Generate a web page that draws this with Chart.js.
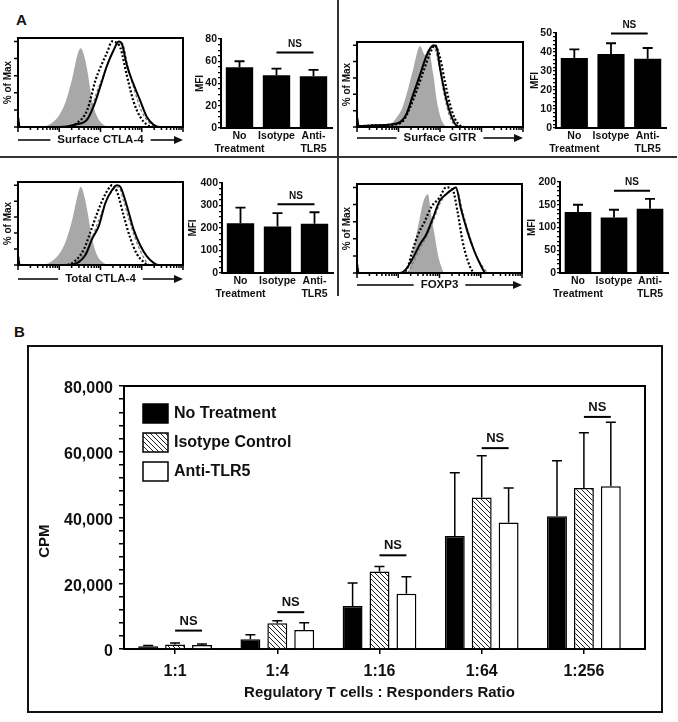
<!DOCTYPE html>
<html>
<head>
<meta charset="utf-8">
<script src="https://cdn.jsdelivr.net/npm/chart.js@4.4.0/dist/chart.umd.min.js"></script>
<style>
body { margin: 0; background: #fff; }
#fig { position: relative; width: 678px; height: 722px; background: #fff; font-family: "Liberation Sans", Arial, sans-serif; }
#fig canvas { position: absolute; }
.ln { position: absolute; background: #333; }
.lbl { position: absolute; font-weight: bold; font-size: 15px; color: #111; }
</style>
</head>
<body>
<div id="fig">
  <div class="lbl" style="left:16px;top:11px">A</div>
  <div class="lbl" style="left:14px;top:323px">B</div>
  <div class="ln" style="left:337px;top:0;width:2px;height:296px"></div>
  <div class="ln" style="left:0;top:156px;width:677px;height:2px"></div>
  <div style="position:absolute;left:27px;top:345px;width:636px;height:368px;border:2px solid #111;box-sizing:border-box"></div>
</div>
<script>
// ---- panel A : MFI bar charts ----
var groupsA = [['No', 'Treatment'], 'Isotype', ['Anti-', 'TLR5']];
var ctlaSurfMFI = [54.6, 47.5, 46.6];
var ctlaSurfErr = [60, 53.4, 52.2];
var gitrMFI = [36.9, 39, 36.5];
var gitrErr = [41.4, 44.6, 42.1];
var ctlaTotMFI = [221, 207, 219];
var ctlaTotErr = [291, 266, 270];
var foxp3MFI = [134, 122, 141];
var foxp3Err = [150, 139, 163];
var nsA = [67.8, 49.8, 306, 181];

// ---- panel A : histograms, [x (% of axis), y (% of max)] ----
var ctlaSurfGrey = [[0,0],[14,0],[20,4],[25,14],[29,30],[33,58],[36,84],[38,92],[40,84],[42,66],[45,30],[48,12],[51,4],[55,0],[100,0]];
var ctlaSurfSolid = [[0,12],[1,0],[25,0],[35,3],[42,9],[46,25],[50,48],[54,72],[58,90],[61,100],[63,97],[66,72],[70,50],[74,31],[78,12],[82,3],[86,0],[100,0]];
var ctlaSurfDotted = [[0,10],[1,0],[28,0],[36,5],[42,20],[47,55],[50,70],[54,87],[57,100],[60,98],[62,93],[66,60],[70,30],[74,12],[78,3],[82,0],[100,0]];
var ctlaSurfDashed = [[0,0],[30,0],[38,4],[43,14],[48,42],[52,62],[56,82],[60,96],[63,98],[67,68],[71,40],[75,18],[79,6],[84,0],[100,0]];

var gitrGrey = [[0,0],[16,0],[20,3],[24,12],[27,22],[30,41],[34,72],[38,99],[41,88],[43,95],[46,64],[48,33],[50,14],[52,4],[55,0],[100,0]];
var gitrSolid = [[0,12],[1,1],[10,2],[20,3],[26,6],[30,17],[34,41],[38,64],[42,88],[46,100],[48,97],[50,72],[53,41],[56,18],[59,4],[62,0],[100,0]];
var gitrDotted = [[0,10],[1,1],[10,2],[22,3],[28,8],[32,24],[36,45],[40,68],[44,90],[47,100],[50,85],[53,55],[56,28],[59,10],[62,2],[65,0],[100,0]];
var gitrDashed = [[0,0],[12,0],[24,4],[30,14],[34,36],[38,60],[42,85],[46,98],[49,80],[52,45],[55,18],[58,4],[61,0],[100,0]];

var ctlaTotGrey = [[0,0],[14,0],[20,4],[25,14],[29,30],[33,58],[36,86],[38,98],[40,88],[42,68],[45,32],[48,12],[51,4],[55,0],[100,0]];
var ctlaTotSolid = [[0,12],[1,0],[30,0],[37,4],[41,13],[45,33],[49,49],[53,78],[57,94],[60,100],[62,98],[66,74],[70,45],[74,25],[78,11],[82,3],[85,0],[100,0]];
var ctlaTotDotted = [[0,10],[1,0],[28,0],[34,4],[40,20],[44,42],[48,65],[52,85],[55,96],[57,100],[60,92],[64,62],[68,34],[72,14],[76,4],[79,0],[100,0]];
var ctlaTotDashed = [[0,0],[30,0],[36,5],[42,20],[46,40],[50,62],[54,82],[58,95],[61,98],[64,80],[68,52],[72,28],[76,10],[80,0],[100,0]];

var foxp3Grey = [[0,0],[30,0],[32,5],[34,26],[36,45],[38,64],[40,82],[43,92],[45,67],[47,45],[49,22],[51,8],[53,0],[100,0]];
var foxp3Solid = [[0,10],[1,0],[26,0],[30,5],[34,18],[38,33],[42,45],[46,64],[50,84],[54,92],[58,98],[60,100],[63,75],[67,48],[71,26],[75,9],[78,0],[100,0]];
var foxp3Dotted = [[0,10],[1,0],[28,0],[31,8],[33,22],[37,45],[41,60],[45,77],[50,88],[54,100],[58,97],[61,71],[64,37],[67,15],[70,2],[72,0],[100,0]];
var foxp3Dashed = [[0,0],[30,0],[34,12],[38,28],[42,42],[46,60],[50,80],[54,92],[58,98],[61,95],[64,72],[68,45],[72,22],[76,8],[80,0],[100,0]];

var histYTicks = [0, 20, 40, 60, 80, 100];

// ---- panel B : proliferation ----
var ratios = ['1:1', '1:4', '1:16', '1:64', '1:256'];
var noTreat = [800, 3000, 13100, 34400, 40400];
var noTreatErr = [1100, 4300, 20100, 53600, 57300];
var isotype = [1400, 7800, 23600, 46100, 49000];
var isotypeErr = [1800, 8600, 25100, 58800, 65800];
var antiTLR5 = [1200, 5800, 16800, 38500, 49500];
var antiTLR5Err = [1500, 8000, 22000, 49000, 69000];
var nsB = [5600, 11200, 28500, 61100, 70600];

var FONT = '"Liberation Sans", Arial, sans-serif';
Chart.defaults.font.family = FONT;
Chart.defaults.font.weight = 'bold';
Chart.defaults.color = '#111';
Chart.defaults.animation = false;
Chart.defaults.plugins.legend.display = false;
Chart.defaults.plugins.tooltip.enabled = false;

var fig = document.getElementById('fig');
function addCanvas(left, top, w, h) {
    var c = document.createElement('canvas');
    c.width = w; c.height = h;
    c.style.left = left + 'px'; c.style.top = top + 'px';
    c.style.width = w + 'px'; c.style.height = h + 'px';
    fig.appendChild(c);
    return c;
}
function pts(a) {
    return a.map(function (p) { return { x: p[0], y: p[1] }; });
}

// frame, ticks, titles of the histograms
var histPlugin = {
    id: 'histDeco',
    afterDraw: function (chart) {
        var ctx = chart.ctx, a = chart.chartArea, x = chart.scales.x, y = chart.scales.y;
        var o = chart.options.plugins.histDeco;
        ctx.save();
        ctx.strokeStyle = '#000';
        ctx.fillStyle = '#111';
        ctx.lineWidth = 1.5;
        ctx.beginPath();
        histYTicks.forEach(function (v) {
            var py = y.getPixelForValue(v);
            ctx.moveTo(a.left - 4, py); ctx.lineTo(a.left, py);
        });
        for (var d = 0; d < 4; d++) {
            for (var m = 1; m <= 9; m++) {
                var px = x.getPixelForValue(25 * (d + Math.log10(m)));
                ctx.moveTo(px, a.bottom); ctx.lineTo(px, a.bottom + (m === 1 ? 5 : 3));
            }
        }
        ctx.moveTo(a.right, a.bottom); ctx.lineTo(a.right, a.bottom + 5);
        ctx.stroke();
        ctx.lineWidth = 2;
        ctx.strokeRect(a.left, a.top, a.right - a.left, a.bottom - a.top);

        ctx.textAlign = 'center';
        ctx.textBaseline = 'middle';
        ctx.font = 'bold 10px ' + FONT;
        ctx.save();
        ctx.translate(a.left - 10, (a.top + a.bottom) / 2);
        ctx.rotate(-Math.PI / 2);
        ctx.fillText('% of Max', 0, 0);
        ctx.restore();

        ctx.font = 'bold 11.5px ' + FONT;
        var ly = a.bottom + o.gap, cx = (a.left + a.right) / 2;
        var tw = ctx.measureText(o.label).width;
        ctx.fillText(o.label, cx, ly);
        ctx.lineWidth = 1.5;
        ctx.beginPath();
        ctx.moveTo(a.left, ly); ctx.lineTo(cx - tw / 2 - 7, ly);
        ctx.moveTo(cx + tw / 2 + 7, ly); ctx.lineTo(a.right - 6, ly);
        ctx.stroke();
        ctx.beginPath();
        ctx.moveTo(a.right, ly); ctx.lineTo(a.right - 9, ly - 4); ctx.lineTo(a.right - 9, ly + 4);
        ctx.closePath();
        ctx.fill();
        ctx.restore();
    }
};

function histogram(box, label, gap, grey, solid, dotted, dashed) {
    var cl = box[0] - 18, ct = box[1] - 10;
    var c = addCanvas(cl, ct, box[2] - cl + 7, box[3] - ct + gap + 10);
    return new Chart(c, {
        type: 'line',
        data: {
            datasets: [
                { data: pts(solid), borderColor: '#000', borderWidth: 2, order: 0 },
                { data: pts(dotted), borderColor: '#000', borderWidth: 2.2, borderDash: [2, 2], order: 1 },
                { data: pts(dashed), borderColor: '#7a7a7a', borderWidth: 1.2, borderDash: [3, 2], order: 2 },
                { data: pts(grey), borderWidth: 0, borderColor: 'rgba(0,0,0,0)', backgroundColor: '#a8a8a8', fill: 'origin', order: 3 }
            ]
        },
        options: {
            responsive: false,
            layout: { padding: { left: 18, top: 10, right: 7, bottom: gap + 10 } },
            elements: { point: { radius: 0 }, line: { cubicInterpolationMode: 'monotone' } },
            scales: {
                x: { type: 'linear', min: 0, max: 100, display: false },
                y: { min: 0, max: 104, display: false }
            },
            plugins: { histDeco: { label: label, gap: gap } }
        },
        plugins: [histPlugin]
    });
}

// error bars and NS brackets for the bar charts
var errPlugin = {
    id: 'errBars',
    afterDatasetsDraw: function (chart) {
        var ctx = chart.ctx, y = chart.scales.y;
        var o = chart.options.plugins.errBars;
        ctx.save();
        ctx.strokeStyle = '#000';
        ctx.lineWidth = o.width;
        chart.data.datasets.forEach(function (ds, di) {
            chart.getDatasetMeta(di).data.forEach(function (bar, i) {
                var top = y.getPixelForValue(ds.err[i]);
                ctx.beginPath();
                ctx.moveTo(bar.x, bar.y); ctx.lineTo(bar.x, top);
                ctx.moveTo(bar.x - o.cap, top); ctx.lineTo(bar.x + o.cap, top);
                ctx.stroke();
            });
        });
        ctx.fillStyle = '#111';
        ctx.font = o.nsFont;
        ctx.textAlign = 'center';
        ctx.textBaseline = 'bottom';
        ctx.lineWidth = 2;
        o.ns.forEach(function (n) {
            var x1 = chart.getDatasetMeta(n[0]).data[n[1]].x;
            var x2 = chart.getDatasetMeta(n[2]).data[n[3]].x;
            var py = y.getPixelForValue(n[4]);
            ctx.beginPath();
            ctx.moveTo(x1, py); ctx.lineTo(x2, py);
            ctx.stroke();
            ctx.fillText('NS', (x1 + x2) / 2, py - 3);
        });
        ctx.restore();
    }
};

function mfiChart(ax, top, right, bottom, yW, titlePad, vals, errs, max, minor, major, ns) {
    var cl = ax - yW, ct = top - 16;
    var c = addCanvas(cl, ct, right - cl + 6, bottom - ct + 32);
    return new Chart(c, {
        type: 'bar',
        data: {
            labels: groupsA,
            datasets: [{ data: vals, err: errs, backgroundColor: '#000', barPercentage: 0.74, categoryPercentage: 1 }]
        },
        options: {
            responsive: false,
            layout: { padding: { top: 16, right: 6 } },
            scales: {
                x: {
                    grid: { display: false, drawTicks: false },
                    border: { color: '#000', width: 2 },
                    ticks: { padding: 2, maxRotation: 0, autoSkip: false, font: { size: 10.5, lineHeight: 1.2 } },
                    afterFit: function (s) { s.height = 32; }
                },
                y: {
                    min: 0, max: max,
                    grid: { drawOnChartArea: false, tickLength: 3, color: '#000', lineWidth: 1.2 },
                    border: { color: '#000', width: 2 },
                    ticks: {
                        stepSize: minor, autoSkip: false, padding: 1, font: { size: 10.5 },
                        callback: function (v) { return v % major === 0 ? v : ''; }
                    },
                    title: { display: true, text: 'MFI', font: { size: 10 }, padding: { top: titlePad, bottom: 0 } },
                    afterFit: function (s) { s.width = yW; }
                }
            },
            plugins: { errBars: { width: 1.8, cap: 5, nsFont: 'bold 10px ' + FONT, ns: [[0, 1, 0, 2, ns]] } }
        },
        plugins: [errPlugin]
    });
}

histogram([18, 38, 183, 127], 'Surface CTLA-4', 13, ctlaSurfGrey, ctlaSurfSolid, ctlaSurfDotted, ctlaSurfDashed);
histogram([357, 42, 523, 127], 'Surface GITR', 11, gitrGrey, gitrSolid, gitrDotted, gitrDashed);
histogram([18, 182, 183, 265], 'Total CTLA-4', 14, ctlaTotGrey, ctlaTotSolid, ctlaTotDotted, ctlaTotDashed);
histogram([357, 184, 522, 273], 'FOXP3', 12, foxp3Grey, foxp3Solid, foxp3Dotted, foxp3Dashed);

mfiChart(221, 39, 332, 128, 33, 6, ctlaSurfMFI, ctlaSurfErr, 80, 5, 20, nsA[0]);
mfiChart(556, 33, 666, 128, 33, 6, gitrMFI, gitrErr, 50, 2, 10, nsA[1]);
mfiChart(222, 183, 333, 273, 38, 3, ctlaTotMFI, ctlaTotErr, 400, 25, 100, nsA[2]);
mfiChart(560, 182, 668, 273, 36, 2, foxp3MFI, foxp3Err, 200, 10, 50, nsA[3]);

// ---- panel B chart ----
function hatchPattern(ctx) {
    var p = document.createElement('canvas');
    p.width = 5; p.height = 5;
    var g = p.getContext('2d');
    g.fillStyle = '#fff';
    g.fillRect(0, 0, 5, 5);
    g.strokeStyle = '#222';
    g.lineWidth = 1;
    g.beginPath();
    g.moveTo(0, 0); g.lineTo(5, 5);
    g.moveTo(-1, 4); g.lineTo(1, 6);
    g.moveTo(4, -1); g.lineTo(6, 1);
    g.stroke();
    return ctx.createPattern(p, 'repeat');
}

var frameB = {
    id: 'frameB',
    afterDraw: function (chart) {
        var ctx = chart.ctx, a = chart.chartArea;
        var xr = a.right + 10;
        ctx.save();
        ctx.strokeStyle = '#000';
        ctx.lineWidth = 2;
        ctx.beginPath();
        ctx.moveTo(a.left, a.top); ctx.lineTo(xr, a.top); ctx.lineTo(xr, a.bottom); ctx.lineTo(a.right, a.bottom);
        ctx.stroke();
        // y title, sits a bit below the axis middle
        ctx.fillStyle = '#111';
        ctx.font = 'bold 15px ' + FONT;
        ctx.textAlign = 'center';
        ctx.textBaseline = 'middle';
        ctx.save();
        ctx.translate(a.left - 79, a.top + (a.bottom - a.top) * 0.59);
        ctx.rotate(-Math.PI / 2);
        ctx.fillText('CPM', 0, 0);
        ctx.restore();
        // legend
        ctx.font = 'bold 16px ' + FONT;
        ctx.textAlign = 'left';
        ctx.lineWidth = 1.5;
        chart.data.datasets.forEach(function (ds, i) {
            var cy = a.top + 27 + i * 29;
            var bx = a.left + 19;
            ctx.fillStyle = ds.backgroundColor;
            ctx.fillRect(bx, cy - 9, 25, 19);
            ctx.strokeRect(bx, cy - 9, 25, 19);
            ctx.fillStyle = '#111';
            ctx.fillText(ds.label, bx + 31, cy + 1);
        });
        ctx.restore();
    }
};

var cB = addCanvas(29, 347, 632, 364);
var hatch = hatchPattern(cB.getContext('2d'));
var nsListB = ratios.map(function (r, i) { return [1, i, 2, i, nsB[i]]; });
new Chart(cB, {
    type: 'bar',
    data: {
        labels: ratios,
        datasets: [
            { label: 'No Treatment', data: noTreat, err: noTreatErr, backgroundColor: '#000', borderColor: '#000', borderWidth: 1.5 },
            { label: 'Isotype Control', data: isotype, err: isotypeErr, backgroundColor: hatch, borderColor: '#000', borderWidth: 1.5 },
            { label: 'Anti-TLR5', data: antiTLR5, err: antiTLR5Err, backgroundColor: '#fff', borderColor: '#000', borderWidth: 1.5 }
        ]
    },
    options: {
        responsive: false,
        datasets: { bar: { categoryPercentage: 0.79, barPercentage: 0.74 } },
        layout: { padding: { top: 39, right: 26 } },
        scales: {
            x: {
                grid: { drawOnChartArea: false, offset: false, tickLength: 5, color: '#000', lineWidth: 1.5 },
                border: { color: '#000', width: 2 },
                ticks: { padding: 8, font: { size: 16 } },
                title: { display: true, text: 'Regulatory T cells : Responders Ratio', font: { size: 15 }, padding: { top: 0, bottom: 9 } },
                afterFit: function (s) { s.height = 62; }
            },
            y: {
                min: 0, max: 80000,
                grid: { drawOnChartArea: false, tickLength: 5, color: '#000', lineWidth: 1.5 },
                border: { color: '#000', width: 2 },
                ticks: {
                    stepSize: 4000, autoSkip: false, padding: 6, labelOffset: 3, font: { size: 16 },
                    callback: function (v) { return v % 20000 === 0 ? v.toLocaleString('en-US') : ''; }
                },
                afterFit: function (s) { s.width = 95; }
            }
        },
        plugins: { errBars: { width: 1.5, cap: 5, nsFont: 'bold 13px ' + FONT, ns: nsListB } }
    },
    plugins: [errPlugin, frameB]
});
</script>
</body>
</html>
